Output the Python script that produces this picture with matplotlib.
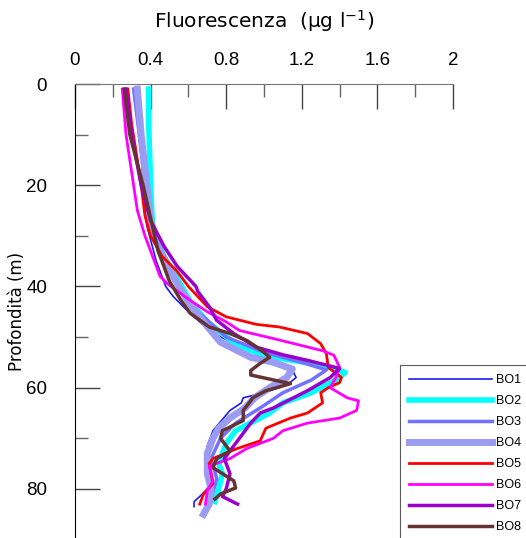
import matplotlib
matplotlib.use("Agg")
import matplotlib.pyplot as plt
from matplotlib.ticker import MultipleLocator

# fluorescence (ug/l) and depth (m) for each station
bo1_x = [0.33, 0.35, 0.36, 0.38, 0.43, 0.48, 0.52, 0.60, 0.72, 0.88, 1.05, 1.15, 1.17, 1.12, 1.00, 0.89, 0.88, 0.82, 0.73, 0.70, 0.70, 0.72, 0.70, 0.66, 0.63, 0.63]
bo1_y = [1, 10, 20, 28, 35, 40, 42, 45, 49, 52, 55, 56.5, 58, 59.5, 61, 62, 63, 64.5, 68.5, 71.5, 74, 77, 80, 81.5, 82.5, 83.5]
bo2_x = [0.39, 0.39, 0.40, 0.41, 0.47, 0.55, 0.61, 0.70, 0.87, 1.05, 1.30, 1.43, 1.38, 1.25, 1.10, 1.03, 0.85, 0.80, 0.76, 0.78, 0.76, 0.74]
bo2_y = [1, 8, 20, 28, 34, 39, 43, 47, 52, 54, 55.5, 57, 58.5, 61, 63, 65, 68.5, 71, 75, 77, 80, 82.5]
bo3_x = [0.31, 0.34, 0.37, 0.40, 0.46, 0.55, 0.65, 0.80, 1.00, 1.20, 1.33, 1.25, 1.10, 0.98, 0.85, 0.77, 0.72, 0.75, 0.72, 0.70]
bo3_y = [1, 10, 20, 28, 34, 40, 45, 50, 53, 55, 56.5, 58.5, 61, 64, 67, 70, 74, 78, 82, 84]
bo4_x = [0.33, 0.35, 0.38, 0.40, 0.45, 0.52, 0.55, 0.60, 0.68, 0.77, 0.93, 1.05, 1.15, 1.12, 1.03, 0.95, 0.90, 0.82, 0.76, 0.73, 0.70, 0.70, 0.72, 0.71, 0.68]
bo4_y = [1, 10, 20, 27, 33, 38, 40, 43, 47, 51, 54, 55, 56.3, 58, 60, 62, 64, 66, 68, 70, 73, 77, 80, 83, 85]
bo5_x = [0.28, 0.30, 0.33, 0.35, 0.37, 0.40, 0.46, 0.54, 0.60, 0.70, 0.80, 0.96, 1.08, 1.23, 1.30, 1.33, 1.34, 1.41, 1.40, 1.34, 1.30, 1.31, 1.23, 1.14, 1.01, 0.98, 0.86, 0.73, 0.71, 0.73, 0.68, 0.66]
bo5_y = [1, 8, 15, 20, 26, 30, 34, 37, 40, 44, 46, 47.5, 48, 49.3, 51.3, 53.3, 56, 58, 59, 60, 61, 63, 65, 66, 68, 70.5, 72, 74, 75, 79, 81, 83]
bo6_x = [0.25, 0.27, 0.31, 0.33, 0.37, 0.41, 0.45, 0.49, 0.60, 0.70, 0.80, 0.87, 1.05, 1.31, 1.37, 1.40, 1.38, 1.35, 1.44, 1.50, 1.49, 1.40, 1.23, 1.10, 1.05, 0.91, 0.82, 0.71, 0.73, 0.70, 0.69]
bo6_y = [1, 10, 20, 25, 30, 34, 38, 39.5, 42.5, 45, 47, 48.7, 50.3, 52.7, 53.6, 56, 58, 60, 62, 62.6, 64.5, 66, 67, 68.5, 70, 72, 74, 75.5, 78.4, 80.4, 83]
bo7_x = [0.27, 0.30, 0.35, 0.40, 0.47, 0.54, 0.64, 0.65, 0.71, 0.75, 0.84, 0.96, 1.10, 1.23, 1.40, 1.35, 1.23, 1.05, 0.98, 0.93, 0.86, 0.79, 0.82, 0.80, 0.78, 0.86]
bo7_y = [1, 10, 20, 27, 32, 36, 40, 41, 44, 46.7, 49.3, 52, 53.5, 54.6, 56.2, 58, 60.6, 64, 65, 67, 70.5, 74, 77, 80, 81.5, 83]
bo8_x = [0.26, 0.29, 0.36, 0.40, 0.44, 0.50, 0.56, 0.61, 0.71, 0.82, 0.91, 0.99, 1.03, 0.98, 0.93, 0.93, 1.14, 1.01, 0.94, 0.93, 0.89, 0.89, 0.78, 0.77, 0.82, 0.75, 0.73, 0.84, 0.85, 0.77, 0.74]
bo8_y = [1, 10, 20, 26.5, 33, 39, 42.7, 45.3, 48, 49.3, 50.7, 52.7, 54, 55.2, 56.6, 57.5, 59.2, 60.6, 62, 62.6, 64.5, 66.5, 68.5, 70, 72.5, 74, 75.8, 78.4, 79.8, 81, 82]

series = [
    ("BO1", bo1_x, bo1_y, "#1a1aff", 1.2),
    ("BO2", bo2_x, bo2_y, "#00ffff", 4.0),
    ("BO3", bo3_x, bo3_y, "#7272ff", 2.5),
    ("BO4", bo4_x, bo4_y, "#9b9bf2", 5.0),
    ("BO5", bo5_x, bo5_y, "#ff0000", 2.0),
    ("BO6", bo6_x, bo6_y, "#ff00ff", 2.0),
    ("BO7", bo7_x, bo7_y, "#9900cc", 2.5),
    ("BO8", bo8_x, bo8_y, "#663333", 2.5),
]

fig = plt.figure(figsize=(5.26, 5.38), dpi=100)
ax = fig.add_axes([75 / 526, 0, 378 / 526, 1 - 84 / 538])

for name, x, y, col, lw in series:
    ax.plot(x, y, color=col, lw=lw, label=name)

ax.set_xlim(0, 2)
ax.set_ylim(89.7, 0)
ax.xaxis.set_major_locator(MultipleLocator(0.4))
ax.xaxis.set_minor_locator(MultipleLocator(0.2))
ax.yaxis.set_major_locator(MultipleLocator(20))
ax.yaxis.set_minor_locator(MultipleLocator(10))
ax.set_xticks([0, 0.4, 0.8, 1.2, 1.6, 2])
ax.set_xticklabels(["0", "0.4", "0.8", "1.2", "1.6", "2"])
ax.xaxis.tick_top()
ax.xaxis.set_label_position("top")
ax.tick_params(which="major", direction="in", length=18, width=1, color="#444444",
               labelsize=13.5, top=True, bottom=False, left=True, right=False)
ax.tick_params(axis="x", which="major", pad=11)
ax.tick_params(axis="y", which="major", pad=20)
ax.tick_params(which="minor", direction="in", length=9, width=1, color="#666666",
               top=True, bottom=False, left=True, right=False)
for lab in ax.get_xticklabels() + ax.get_yticklabels():
    lab.set_fontfamily("Liberation Sans")

ax.spines["right"].set_visible(False)
ax.spines["bottom"].set_visible(False)
ax.spines["top"].set_color("#777777")
ax.spines["left"].set_color("black")

ax.set_xlabel("Fluorescenza  (µg l$^{-1}$)", fontsize=14.5, labelpad=17)
ax.set_ylabel("Profondità (m)", fontsize=12, labelpad=0)

leg = ax.legend(loc="upper left", bbox_to_anchor=(400 / 526, 1 - 365 / 538),
                bbox_transform=fig.transFigure, frameon=True, fancybox=False,
                edgecolor="#333333", fontsize=9, handlelength=6.6,
                labelspacing=0.72, borderpad=0.75, borderaxespad=0,
                handletextpad=0.3)
leg.get_frame().set_linewidth(0.8)
for t in leg.get_texts():
    t.set_fontfamily("Liberation Sans")

fig.savefig("out.png", dpi=100)
